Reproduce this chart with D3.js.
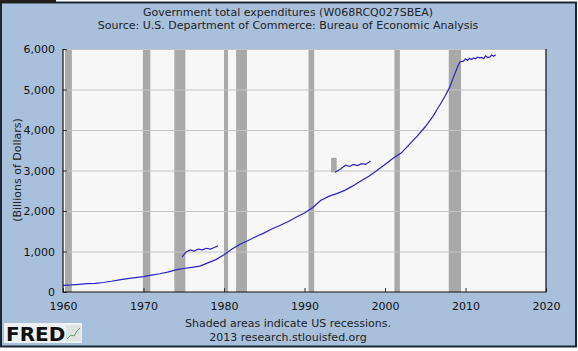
<!DOCTYPE html>
<html>
<head>
<meta charset="utf-8">
<script src="https://cdn.jsdelivr.net/npm/d3@7"></script>
<style>
  body { margin: 0; background: #ffffff; }
  text { font-family: "DejaVu Sans", Verdana, sans-serif; }
</style>
</head>
<body>
<svg id="chart" width="578" height="351"></svg>
<script>
// series: quarterly-ish readings (billions of dollars)
const years = [1960, 1961, 1962, 1963, 1964, 1965, 1966, 1967, 1968, 1969,
  1970, 1971, 1972, 1973, 1974, 1975, 1976, 1977, 1978, 1979,
  1980, 1981, 1982, 1983, 1984, 1985, 1986, 1987, 1988, 1989,
  1990, 1991, 1992, 1993, 1994, 1995, 1996, 1997, 1998, 1999,
  2000, 2001, 2002, 2003, 2004, 2005, 2006, 2006.5, 2007, 2007.5,
  2008, 2008.5, 2009, 2009.3, 2009.75, 2010, 2010.25, 2010.5, 2010.75, 2011,
  2011.25, 2011.5, 2011.75, 2012, 2012.25, 2012.5, 2012.75, 2013, 2013.25, 2013.5, 2013.75];
const values = [165, 175, 190, 205, 215, 235, 265, 300, 330, 355,
  380, 415, 450, 490, 545, 580, 610, 640, 720, 800,
  920, 1060, 1180, 1270, 1370, 1460, 1560, 1650, 1740, 1850,
  1950, 2080, 2260, 2360, 2430, 2510, 2620, 2740, 2860, 3000,
  3150, 3300, 3430, 3640, 3850, 4080, 4350, 4520, 4680, 4850,
  5040, 5300, 5550, 5680, 5700, 5760, 5720, 5770, 5740, 5780,
  5760, 5800, 5780, 5790, 5760, 5830, 5790, 5800, 5850, 5820, 5860];

// stray pasted fragments visible in the picture
const frag1Years = [1974.8, 1975.3, 1975.8, 1976.3, 1976.8, 1977.3, 1977.8, 1978.3, 1978.8, 1979.25];
const frag1Values = [870, 990, 1040, 1010, 1060, 1040, 1080, 1060, 1100, 1140];
const frag2Years = [1993.8, 1994.2, 1994.6, 1995.1, 1995.6, 1996.1, 1996.6, 1997.1, 1997.6, 1998.2];
const frag2Values = [2955, 3000, 3054, 3130, 3100, 3150, 3120, 3170, 3150, 3235];
const fragBox = [1993.3, 1994.0, 2955, 3313];

const recStart = [1960.25, 1969.92, 1973.83, 1980.0, 1981.5, 1990.5, 2001.17, 2007.92];
const recEnd = [1961.1, 1970.85, 1975.2, 1980.5, 1982.85, 1991.2, 2001.85, 2009.45];

const xTicks = [1960, 1970, 1980, 1990, 2000, 2010, 2020];
const yTicks = [0, 1000, 2000, 3000, 4000, 5000, 6000];

const svg = d3.select('#chart');
const mLeft = 63, mRight = 546, mTop = 49, mBottom = 292;

// frame
svg.append('rect')
  .attr('x', 1).attr('y', 2.5).attr('width', 575).attr('height', 344)
  .attr('fill', '#a9c0dc').attr('stroke', '#1c2533').attr('stroke-width', 2);
svg.append('rect')
  .attr('x', 0).attr('y', 0).attr('width', 56).attr('height', 3)
  .attr('fill', '#231f1c');

const xscale = d3.scaleLinear().domain([1960, 2020]).range([mLeft, mRight]);
const yscale = d3.scaleLinear().domain([0, 6000]).range([mBottom, mTop]);

// plot area
svg.append('rect')
  .attr('x', mLeft).attr('y', mTop).attr('width', mRight - mLeft).attr('height', mBottom - mTop)
  .attr('fill', '#f7f7f7');

svg.append('g')
  .selectAll('rect')
  .data(recStart)
  .enter()
  .append('rect')
  .attr('x', (d) => xscale(Math.max(d, 1960)))
  .attr('y', mTop)
  .attr('width', (d, i) => xscale(recEnd[i]) - xscale(Math.max(d, 1960)))
  .attr('height', mBottom - mTop)
  .attr('fill', '#a9a9a9');

// gridlines
svg.append('g')
  .selectAll('line')
  .data(yTicks.slice(1))
  .enter()
  .append('line')
  .attr('x1', mLeft).attr('x2', mRight)
  .attr('y1', (d) => yscale(d) + 0.5).attr('y2', (d) => yscale(d) + 0.5)
  .attr('stroke', '#c4c4c4');

const line = d3.line()
  .x((d) => xscale(d[0]))
  .y((d) => yscale(d[1]));

svg.append('rect')
  .attr('x', xscale(fragBox[0])).attr('y', yscale(fragBox[3]))
  .attr('width', xscale(fragBox[1]) - xscale(fragBox[0]))
  .attr('height', yscale(fragBox[2]) - yscale(fragBox[3]))
  .attr('fill', '#a9a9a9');

[[years, values], [frag1Years, frag1Values], [frag2Years, frag2Values]].forEach(([xs, vs]) => {
  svg.append('path')
    .datum(xs.map((y, i) => [y, vs[i]]))
    .attr('d', line)
    .attr('fill', 'none')
    .attr('stroke', '#2b22c8')
    .attr('stroke-width', 1.2);
});

// axes
const bottomAxis = d3.axisBottom(xscale)
  .tickValues(xTicks)
  .tickFormat(d3.format('d'))
  .tickSize(-4)
  .tickPadding(8);

const gx = svg.append('g')
  .attr('transform', `translate(0, ${mBottom})`)
  .call(bottomAxis);

const leftAxis = d3.axisLeft(yscale)
  .tickValues(yTicks)
  .tickFormat(d3.format(','))
  .tickSize(-4)
  .tickPadding(8);

const gy = svg.append('g')
  .attr('transform', `translate(${mLeft}, 0)`)
  .call(leftAxis);

[gx, gy].forEach((g) => {
  g.select('.domain').remove();
  g.selectAll('.tick line').attr('stroke', '#333');
  g.selectAll('text')
    .attr('fill', '#111')
    .style('font-size', '11px');
});
gx.selectAll('text').attr('dy', '0.95em');

svg.append('path')
  .attr('d', `M${mLeft},${mTop}V${mBottom}H${mRight}V${mTop}`)
  .attr('fill', 'none')
  .attr('stroke', '#111')
  .attr('stroke-width', 1.2);

// titles
const titles = svg.append('g')
  .attr('text-anchor', 'middle')
  .style('font-size', '11px')
  .attr('fill', '#222');

titles.append('text').attr('x', 288).attr('y', 16)
  .text('Government total expenditures (W068RCQ027SBEA)');
titles.append('text').attr('x', 288).attr('y', 29)
  .text('Source: U.S. Department of Commerce: Bureau of Economic Analysis');
titles.append('text').attr('x', 288).attr('y', 327)
  .text('Shaded areas indicate US recessions.');
titles.append('text').attr('x', 288).attr('y', 341)
  .text('2013 research.stlouisfed.org');

svg.append('text')
  .attr('transform', `translate(21, 170) rotate(-90)`)
  .attr('text-anchor', 'middle')
  .style('font-size', '11px')
  .attr('fill', '#222')
  .text('(Billions of Dollars)');

// FRED logo
const logo = svg.append('g');
logo.append('rect')
  .attr('x', 4).attr('y', 323).attr('width', 78).attr('height', 20)
  .attr('fill', '#eef1f4');
logo.append('text')
  .attr('x', 6).attr('y', 341)
  .style('font-size', '20px')
  .style('font-weight', 'bold')
  .attr('fill', '#111')
  .text('FRED');
logo.append('rect')
  .attr('x', 66).attr('y', 325).attr('width', 15).attr('height', 16)
  .attr('fill', '#dfe4e0');
logo.append('path')
  .attr('d', 'M67,339L71,335L74,336L77,331L80,328')
  .attr('fill', 'none')
  .attr('stroke', '#6a9a6a')
  .attr('stroke-width', 1);
</script>
</body>
</html>
